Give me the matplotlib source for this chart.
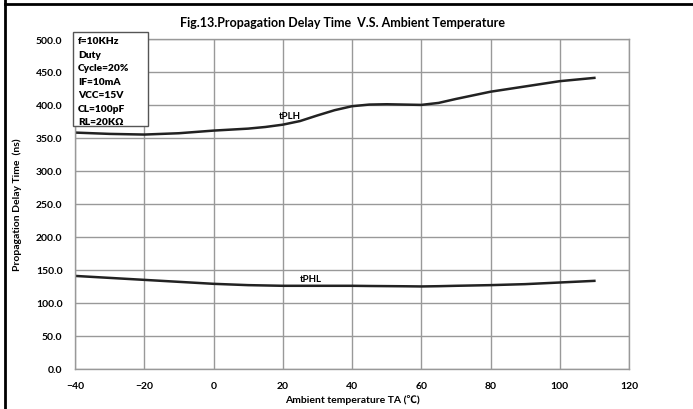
import numpy as np
import matplotlib.pyplot as plt
from matplotlib.patches import Rectangle
from matplotlib.lines import Line2D

# values
temp = [-40, -30, -20, -10, 0, 10, 15, 20, 25, 30, 35, 40, 45, 50, 55, 60, 65,
        70, 80, 90, 100, 110]
tplh = [358, 356, 355, 357, 361, 364, 366.5, 370, 375.5, 384, 392, 398, 400.5, 401,
        400.5, 400, 403, 409, 420, 428, 436, 441]
tphl = [140.5, 137.5, 134.5, 131.5, 128.5, 126.5, 126.0, 125.5, 125.5, 125.5, 125.5,
        125.5, 125.2, 125.0, 124.8, 124.5, 124.9, 125.5, 126.5, 128.0, 130.5, 133.0]
conditions = ['f=10KHz', 'Duty', 'Cycle=20%', 'IF=10mA', 'VCC=15V', 'CL=100pF', 'RL=20K\u03a9']

fonts = ['Lato', 'Noto Sans CJK SC', 'DejaVu Sans']
plt.rcParams['font.family'] = fonts

fig = plt.figure(figsize=(6.93, 4.10), dpi=100)
ax = fig.add_axes([75/693, 1 - 369.5/410, 554/693, 329.5/410])

ax.plot(temp, tplh, color='#222222', linewidth=1.8, solid_joinstyle='round')
ax.plot(temp, tphl, color='#222222', linewidth=1.8, solid_joinstyle='round')

ax.set_xlim(-40, 120)
ax.set_ylim(0, 500)
ax.set_xticks(np.arange(-40, 121, 20))
ax.set_yticks(np.arange(0, 501, 50))
ax.set_yticklabels(['%.1f' % v for v in np.arange(0, 501, 50)])
ax.grid(True, color='#999999', linewidth=1.0)
ax.tick_params(length=0, labelsize=7.5, pad=9)
for lbl in ax.get_xticklabels() + ax.get_yticklabels():
    lbl.set_fontweight('bold')
for s in ax.spines.values():
    s.set_color('#999999')
    s.set_linewidth(1.0)

ax.text(22, 384, 'tPLH', fontsize=7, fontweight='bold', ha='center', va='center')
ax.text(28, 136, 'tPHL', fontsize=7, fontweight='bold', ha='center', va='center')

ax.set_xlabel('Ambient temperature TA (\u2103)', fontsize=7.5, fontweight='bold', labelpad=3)
ax.set_ylabel('Propagation Delay Time  (ns)', fontsize=7.5, fontweight='bold', labelpad=10)

fig.text(343/693, 1 - 23/410, 'Fig.13.Propagation Delay Time  V.S. Ambient Temperature',
         fontsize=9, fontweight='bold', ha='center', va='center')

# conditions box
fig.patches.append(Rectangle((73/693, 1 - 127/410), 75/693, 94/410, transform=fig.transFigure,
                             facecolor='white', edgecolor='#555555', linewidth=1.0, zorder=5))
for i, c in enumerate(conditions):
    fig.text(78/693, 1 - (42 + i*13.4)/410, c, fontsize=7.3, fontweight='heavy',
             ha='left', va='center', zorder=6)

# page border lines
fig.add_artist(Line2D([5/693, 1], [1 - 5/410, 1 - 5/410], transform=fig.transFigure,
                      color='black', linewidth=2))
fig.add_artist(Line2D([5/693, 5/693], [0, 1], transform=fig.transFigure,
                      color='black', linewidth=2))

fig.savefig('out.png', dpi=100, facecolor='white')
